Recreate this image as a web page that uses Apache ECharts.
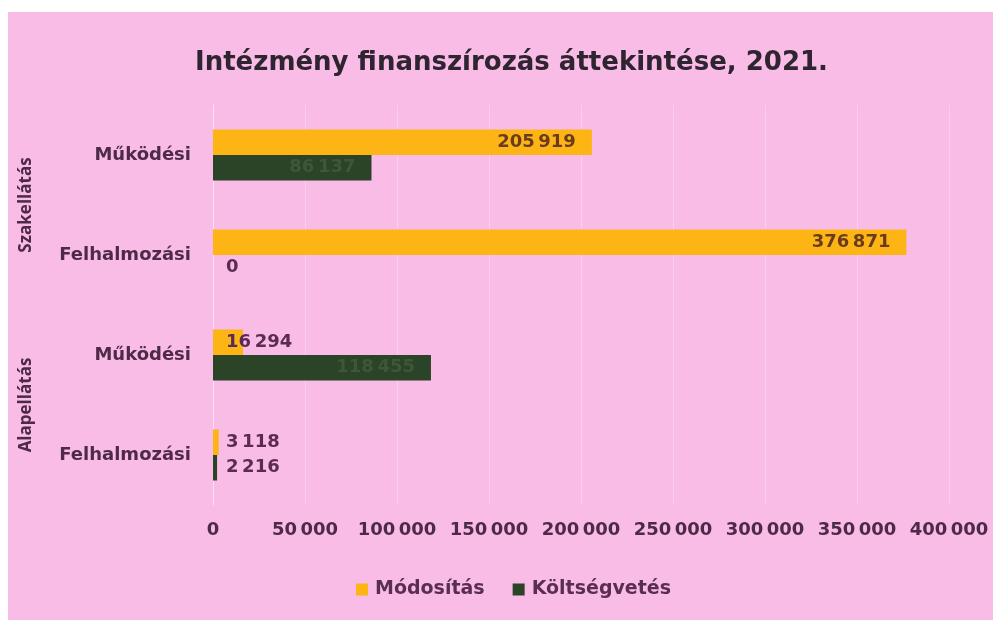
<!DOCTYPE html>
<html>
<head>
<meta charset="utf-8">
<script src="https://cdn.jsdelivr.net/npm/echarts@6/dist/echarts.min.js"></script>
<style>
html,body{margin:0;padding:0;background:#ffffff;}
#bg{position:absolute;left:8px;top:12px;width:985px;height:608px;background:#f8bce6;}
#chart{position:absolute;left:0;top:0;width:993px;height:620px;}
</style>
</head>
<body>
<div id="bg"></div>
<div id="chart"></div>
<script>
const categories = ['Működési', 'Felhalmozási', 'Működési', 'Felhalmozási'];
const groups = ['Szakellátás', 'Alapellátás'];
const modositas = [205919, 376871, 16294, 3118];
const koltsegvetes = [86137, 0, 118455, 2216];
const xTicks = [0, 50000, 100000, 150000, 200000, 250000, 300000, 350000, 400000];

const fmt = v => String(v).replace(/\B(?=(\d{3})+(?!\d))/g, '\u2009');
const wideFont = '"DejaVu Sans", Verdana, sans-serif';
const openFont = '"Open Sans", "DejaVu Sans", sans-serif';
const txt = '#4e2a48';

function makeData(arr, insideColor) {
  return arr.map(v => {
    const small = v < 30000;
    return {
      value: v,
      label: small
        ? { position: 'insideLeft', distance: 13, color: '#5b2b55' }
        : { position: 'insideRight', distance: 16, color: insideColor }
    };
  });
}

const chart = echarts.init(document.getElementById('chart'));
chart.setOption({
  backgroundColor: 'transparent',
  animation: false,
  title: {
    text: 'Intézmény finanszírozás áttekintése, 2021.',
    left: 190,
    top: 45,
    textStyle: { fontFamily: wideFont, fontWeight: 'bold', fontSize: 26, color: '#2e2530' }
  },
  legend: {
    bottom: 16,
    left: 351,
    icon: 'rect',
    itemWidth: 12,
    itemHeight: 12,
    itemGap: 28,
    textStyle: { fontFamily: wideFont, fontWeight: 'bold', fontSize: 19, color: '#5a2d55', padding: [0, 0, 0, 2] },
    data: ['Módosítás', 'Költségvetés']
  },
  grid: { left: 213, right: 44, top: 105, bottom: 115, containLabel: false },
  xAxis: {
    type: 'value',
    min: 0,
    max: 400000,
    interval: 50000,
    axisLine: { show: false },
    axisTick: { show: false },
    splitLine: { show: true, lineStyle: { color: 'rgba(255,255,255,0.28)', width: 1 } },
    axisLabel: {
      margin: 16,
      fontFamily: wideFont, fontWeight: 'bold', fontSize: 18, color: txt,
      formatter: v => xTicks.includes(v) ? fmt(v) : ''
    }
  },
  yAxis: [
    {
      type: 'category',
      inverse: true,
      data: categories,
      axisLine: { show: true, lineStyle: { color: 'rgba(255,255,255,0.35)' } },
      axisTick: { show: false },
      axisLabel: {
        margin: 22,
        fontFamily: wideFont, fontWeight: 'bold', fontSize: 18, color: txt
      }
    },
    {
      type: 'category',
      inverse: true,
      position: 'left',
      data: groups,
      axisLine: { show: false },
      axisTick: { show: false },
      splitLine: { show: false },
      axisLabel: {
        rotate: 90,
        margin: 178,
        fontFamily: openFont, fontWeight: 'bold', fontSize: 17, color: txt
      }
    }
  ],
  series: [
    {
      name: 'Módosítás',
      type: 'bar',
      yAxisIndex: 0,
      barGap: '0%',
      barCategoryGap: '49%',
      itemStyle: { color: '#fdb515' },
      label: { show: true, fontFamily: wideFont, fontWeight: 'bold', fontSize: 18, formatter: p => fmt(p.value) },
      data: makeData(modositas, '#6a3c1c')
    },
    {
      name: 'Költségvetés',
      type: 'bar',
      yAxisIndex: 0,
      barGap: '0%',
      barCategoryGap: '49%',
      itemStyle: { color: '#2b4327' },
      label: { show: true, fontFamily: wideFont, fontWeight: 'bold', fontSize: 18, formatter: p => fmt(p.value) },
      data: makeData(koltsegvetes, '#3f5638')
    }
  ]
});
</script>
</body>
</html>
